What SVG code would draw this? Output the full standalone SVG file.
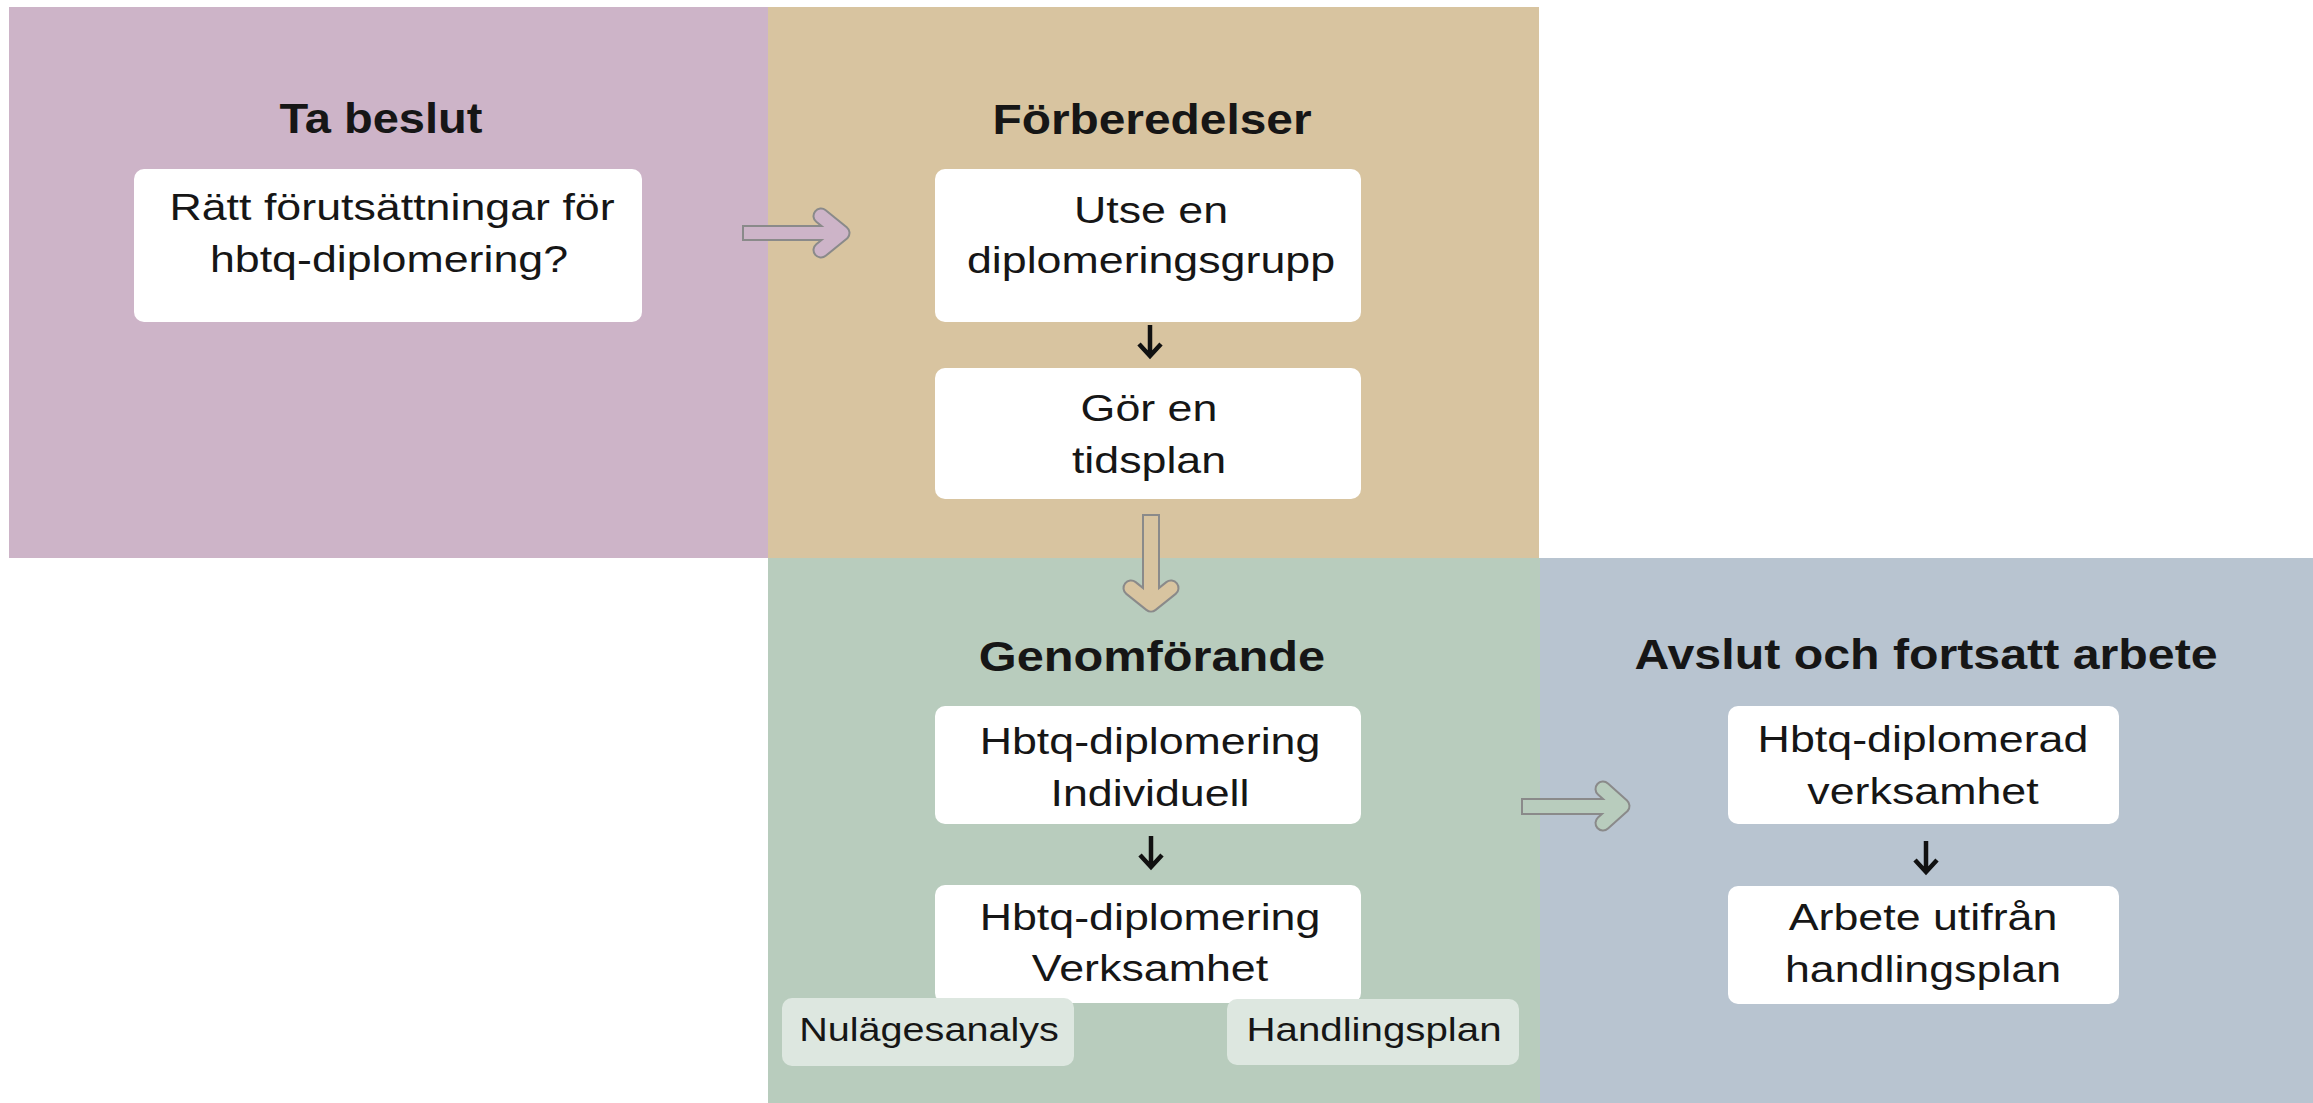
<svg xmlns="http://www.w3.org/2000/svg" width="2313" height="1103" viewBox="0 0 2313 1103">
<style>
text{font-family:"Liberation Sans",Arial,sans-serif;text-anchor:middle;fill:#161616}
.t{font-weight:bold;font-size:42px}
.b{font-size:37px}
.s{font-size:33px}
.box{fill:#ffffff}
.tag{fill:#dde7e0}
.ol{fill:none;stroke:#8a8a8a;stroke-width:17;stroke-linecap:round;stroke-linejoin:round}
.in{fill:none;stroke-width:13;stroke-linecap:round;stroke-linejoin:round}
.sh{stroke:#8a8a8a;stroke-width:2}
.blk{fill:none;stroke:#111;stroke-width:4.5}
</style>
<rect width="2313" height="1103" fill="#ffffff"/>
<g id="panels">
<rect id="p-beslut" x="9" y="7" width="759" height="551" fill="#cdb4c8"/>
<rect id="p-forb" x="768" y="7" width="771" height="551" fill="#d8c4a0"/>
<rect id="p-genom" x="768" y="558" width="772" height="545" fill="#b8ccbd"/>
<rect id="p-avslut" x="1540" y="558" width="773" height="545" fill="#b8c4d0"/>
</g>
<g id="connectors">
<g id="a-purple">
<polyline class="ol" points="821,216 842,233 821,250"/>
<rect class="sh" x="743" y="226" width="96" height="14" fill="#cdb4c8"/>
<polyline class="in" stroke="#cdb4c8" points="821,216 842,233 821,250"/>
</g>
<g id="a-tan">
<polyline class="ol" points="1131,588 1151,604 1171,588"/>
<rect class="sh" x="1143" y="515" width="16" height="86" fill="#d8c4a0"/>
<polyline class="in" stroke="#d8c4a0" points="1131,588 1151,604 1171,588"/>
</g>
<g id="a-green">
<polyline class="ol" points="1603,789 1622,806 1603,823"/>
<rect class="sh" x="1522" y="799" width="96" height="15" fill="#b8ccbd"/>
<polyline class="in" stroke="#b8ccbd" points="1603,789 1622,806 1603,823"/>
</g>
<path class="blk" d="M1150 325V356M1139 344L1150 356L1161 344"/>
<path class="blk" d="M1151 836V867M1140 855L1151 867L1162 855"/>
<path class="blk" d="M1926 841V872M1915 860L1926 872L1937 860"/>
</g>
<g id="n-beslut">
<text class="t" transform="translate(381,133) scale(1.12,1)">Ta beslut</text>
<rect class="box" x="134" y="169" width="508" height="153" rx="10"/>
<text class="b" transform="translate(392,220) scale(1.21,1)">Rätt förutsättningar för</text>
<text class="b" transform="translate(389,272) scale(1.21,1)">hbtq-diplomering?</text>
</g>
<g id="n-forb">
<text class="t" transform="translate(1152,134) scale(1.14,1)">Förberedelser</text>
</g>
<g id="n-utse">
<rect class="box" x="935" y="169" width="426" height="153" rx="10"/>
<text class="b" transform="translate(1151,223) scale(1.21,1)">Utse en</text>
<text class="b" transform="translate(1151,273) scale(1.21,1)">diplomeringsgrupp</text>
</g>
<g id="n-tidsplan">
<rect class="box" x="935" y="368" width="426" height="131" rx="10"/>
<text class="b" transform="translate(1149,421) scale(1.21,1)">Gör en</text>
<text class="b" transform="translate(1149,473) scale(1.21,1)">tidsplan</text>
</g>
<g id="n-genom">
<text class="t" transform="translate(1152,671) scale(1.16,1)">Genomförande</text>
</g>
<g id="n-individuell">
<rect class="box" x="935" y="706" width="426" height="118" rx="10"/>
<text class="b" transform="translate(1150,754) scale(1.21,1)">Hbtq-diplomering</text>
<text class="b" transform="translate(1150,806) scale(1.21,1)">Individuell</text>
</g>
<g id="n-verksamhet">
<rect class="box" x="935" y="885" width="426" height="118" rx="10"/>
<text class="b" transform="translate(1150,930) scale(1.21,1)">Hbtq-diplomering</text>
<text class="b" transform="translate(1150,981) scale(1.21,1)">Verksamhet</text>
</g>
<g id="n-nulage">
<rect class="tag" x="782" y="998" width="292" height="68" rx="10"/>
<text class="s" transform="translate(929,1041) scale(1.2,1)">Nulägesanalys</text>
</g>
<g id="n-handling">
<rect class="tag" x="1227" y="999" width="292" height="66" rx="10"/>
<text class="s" transform="translate(1374,1041) scale(1.22,1)">Handlingsplan</text>
</g>
<g id="n-avslut">
<text class="t" transform="translate(1926,669) scale(1.15,1)">Avslut och fortsatt arbete</text>
</g>
<g id="n-diplomerad">
<rect class="box" x="1728" y="706" width="391" height="118" rx="10"/>
<text class="b" transform="translate(1923,752) scale(1.21,1)">Hbtq-diplomerad</text>
<text class="b" transform="translate(1923,804) scale(1.21,1)">verksamhet</text>
</g>
<g id="n-arbete">
<rect class="box" x="1728" y="886" width="391" height="118" rx="10"/>
<text class="b" transform="translate(1923,930) scale(1.21,1)">Arbete utifrån</text>
<text class="b" transform="translate(1923,982) scale(1.21,1)">handlingsplan</text>
</g>
</svg>
